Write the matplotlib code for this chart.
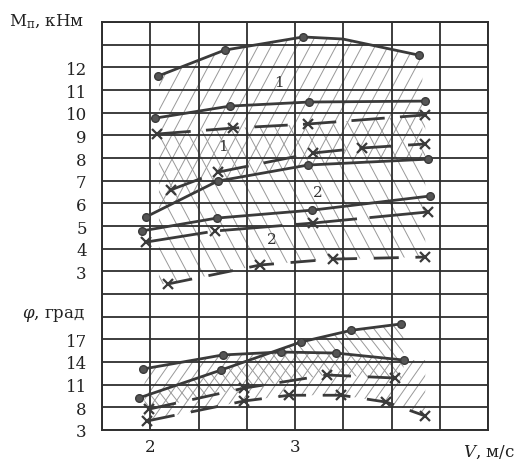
import matplotlib
matplotlib.use("Agg")
import matplotlib.pyplot as plt
import numpy as np

plt.rcParams["font.family"] = ["DejaVu Serif"]
plt.rcParams["mathtext.fontset"] = "dejavuserif"
plt.rcParams["lines.scale_dashes"] = False

#%% Data (V in m/s, M in kN*m, phi in degrees)
# upper block: moment curves
v_a = [2.056, 2.514, 3.056, 3.33, 3.854]
m_a = [11.62, 12.76, 13.34, 13.25, 12.54]
v_b = [2.035, 2.55, 3.10, 3.90]
m_b = [9.76, 10.29, 10.47, 10.51]
v_c = [2.05, 2.57, 3.09, 3.90]
m_c = [9.06, 9.32, 9.50, 9.90]
v_d = [2.14, 2.47, 3.125, 3.46, 3.90]
m_d = [6.59, 7.38, 8.22, 8.44, 8.62]
v_e = [1.97, 2.465, 3.09, 3.92]
m_e = [5.40, 6.98, 7.69, 7.95]
v_f = [1.94, 2.46, 3.12, 3.93]
m_f = [4.78, 5.35, 5.70, 6.32]
v_g = [1.97, 2.45, 3.125, 3.92]
m_g = [4.29, 4.78, 5.13, 5.62]
v_h = [2.12, 2.76, 3.26, 3.90]
m_h = [2.44, 3.28, 3.54, 3.63]

# lower block: angle curves
v_p = [1.95, 2.50, 2.90, 3.28, 3.75]
phi_p = [13.07, 14.93, 15.32, 15.19, 14.26]
v_q = [1.92, 2.49, 3.04, 3.39, 3.73]
phi_q = [9.23, 12.94, 16.64, 18.2, 19.03]
v_r = [1.99, 2.65, 3.22, 3.69]
phi_r = [7.6, 10.55, 12.28, 11.88]
v_s = [1.98, 2.65, 2.96, 3.32, 3.63, 3.90]
phi_s = [5.0, 8.84, 9.6, 9.6, 8.7, 6.1]

m_ticks = [3, 4, 5, 6, 7, 8, 9, 10, 11, 12]
phi_ticks = [3, 8, 11, 14, 17]
v_ticks = [2, 3]


# both scales share one grid: one grid row per unit of M, phi rows as labelled
def m_row(m):
    return np.asarray(m, dtype=float) + 4


def phi_row(p):
    return np.interp(p, [3, 8, 23], [0, 1, 6])


#%% Figure
fig = plt.figure(figsize=(5.28, 4.64), dpi=100)
ax = fig.add_axes([102 / 528, 33 / 464, 386 / 528, 408 / 464])

ax.set_xlim(5 / 3, 13 / 3)
ax.set_ylim(0, 18)

line_col = "#3a3a3a"
hatch_col = "#999999"
ax_w, ax_h = 386.0, 408.0


def hatch_between(vx1, y1, vx2, y2, v0, v1, angle, step):
    # thin slanted strokes clipped to the zone between two curves
    vv = np.linspace(v0, v1, 100)
    zone = ax.fill_between(vv, np.interp(vv, vx1, y1), np.interp(vv, vx2, y2),
                           facecolor="none", linewidth=0, zorder=1)
    clip = zone.get_paths()[0]
    run = ax_h / np.tan(np.radians(angle))
    for x0 in np.arange(-ax_w, 2 * ax_w, step):
        ln, = ax.plot([x0 / ax_w, (x0 + run) / ax_w], [0, 1],
                      transform=ax.transAxes, color=hatch_col, lw=0.7, zorder=1)
        ln.set_clip_path(clip, ax.transData)


# hatched zones
hatch_between(v_a, m_row(m_a), v_e, m_row(m_e), 2.06, 3.88, 62, 13)
hatch_between(v_c, m_row(m_c), v_h, m_row(m_h), 2.06, 3.90, 118, 15)
hatch_between(v_q, phi_row(phi_q), v_r, phi_row(phi_r), 1.96, 3.75, 128, 11)
hatch_between(v_p, phi_row(phi_p), v_s, phi_row(phi_s), 1.96, 3.90, 55, 11)

# solid curves with circles
for vx, yy, marks in [(v_a, m_row(m_a), [0, 1, 2, 4]), (v_b, m_row(m_b), None),
                      (v_e, m_row(m_e), None), (v_f, m_row(m_f), None),
                      (v_p, phi_row(phi_p), None), (v_q, phi_row(phi_q), None)]:
    ax.plot(vx, yy, color=line_col, lw=2.0, marker="o", ms=5.5, markevery=marks,
            markerfacecolor="#555", markeredgecolor=line_col, zorder=3)

# dashed curves with crosses
for vx, yy, dash in [(v_c, m_row(m_c), (24, 11)), (v_d, m_row(m_d), (24, 11)),
                     (v_g, m_row(m_g), (45, 9)), (v_h, m_row(m_h), (18, 12)),
                     (v_r, phi_row(phi_r), (20, 12)), (v_s, phi_row(phi_s), (20, 12))]:
    ax.plot(vx, yy, color=line_col, lw=2.0, dashes=dash, zorder=3)
    ax.plot(vx, yy, ls="none", marker="x", ms=7, mew=1.6, color=line_col, zorder=3)

# zone numbers
for txt, vx, yy in [("1", 2.889, 15.35), ("1", 2.5, 12.53),
                    ("2", 3.16, 10.5), ("2", 2.84, 8.43)]:
    ax.text(vx, yy, txt, fontsize=11, color="#333", ha="center", va="center", zorder=4)

#%% Grid and ticks
ax.set_xticks(v_ticks, [str(v) for v in v_ticks])
ax.set_xticks(np.arange(5 / 3, 13 / 3 + 0.01, 1 / 3), minor=True)
ax.set_yticks(list(phi_row(phi_ticks)) + list(m_row(m_ticks)),
              [str(p) for p in phi_ticks] + [str(m) for m in m_ticks])
ax.set_yticks(range(19), minor=True)
ax.grid(which="both", color="#2e2e2e", lw=1.3, zorder=2)
ax.tick_params(which="both", length=0, labelsize=12, colors="#222")
ax.tick_params(axis="y", pad=11)
ax.tick_params(axis="x", pad=6)
for sp in ax.spines.values():
    sp.set_color("#2e2e2e")
    sp.set_linewidth(1.4)

fig.text(9 / 528, 1 - 22 / 464, r"M$_{\mathrm{п}}$, кНм", fontsize=12,
         color="#222", ha="left", va="center")
fig.text(22 / 528, 1 - 316 / 464, r"$\varphi$, град", fontsize=12,
         color="#222", ha="left", va="center")
fig.text(463 / 528, 1 - 452 / 464, r"$V$, м/с", fontsize=12,
         color="#222", ha="left", va="center")

fig.savefig("out.png", dpi=100)
